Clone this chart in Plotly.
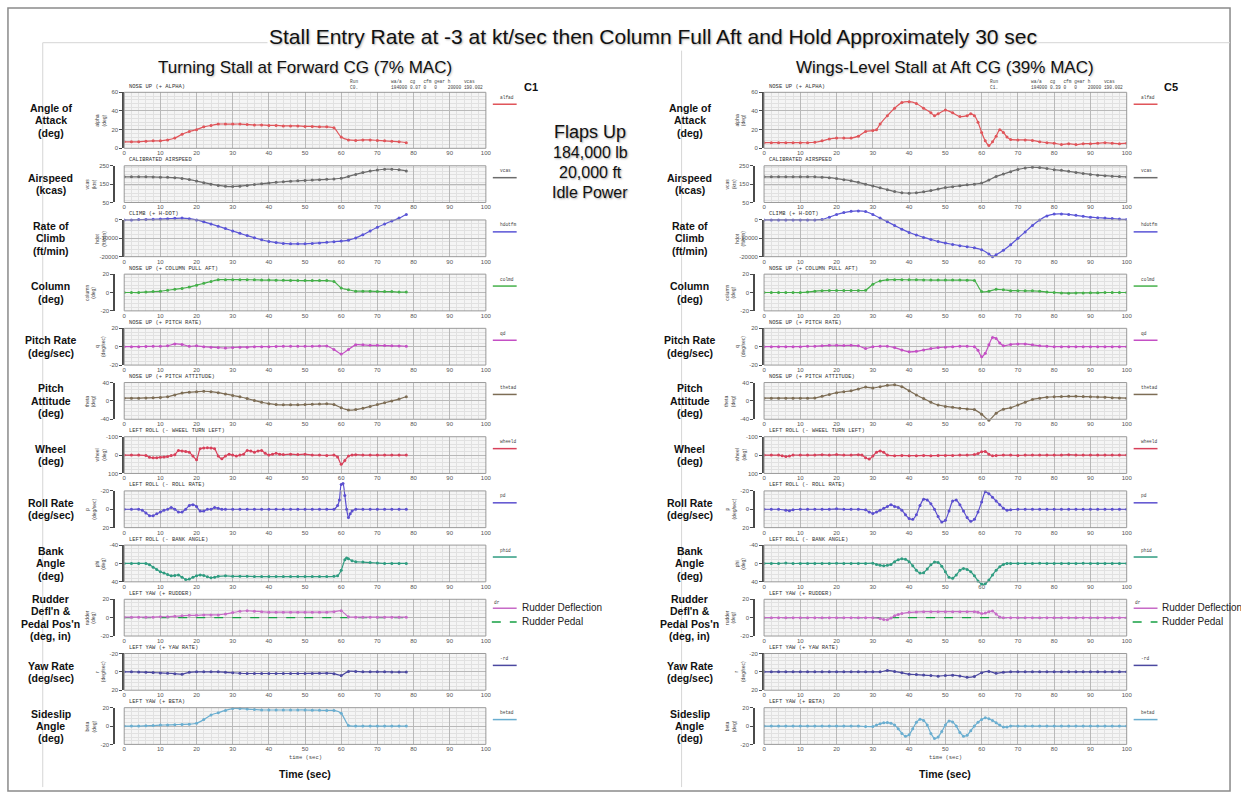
import plotly.graph_objects as go

W, H = 1241, 800


def fx(p):
    return p / W


def fy(p):
    return 1 - p / H


# ---------------- Turning stall at forward CG (left panel) ----------------
T_L = list(range(0, 80, 2))

AOA_L = [7, 7, 7, 7.5, 8, 8, 9, 11, 15, 18,
         20, 23, 24.5, 26, 26, 26, 26, 25.5, 25, 25,
         24.5, 24.5, 24, 24, 24, 23.5, 23.5, 23, 23, 22,
         12, 9, 8.5, 9, 9, 8.5, 8, 7.5, 7, 6]
VCAS_L = [190, 190, 190, 190, 189, 188, 187, 185, 181, 175,
          167, 158, 150, 143, 138, 137, 139, 143, 148, 152,
          156, 160, 163, 166, 168, 170, 172, 174, 176, 178,
          182, 192, 203, 213, 221, 227, 231, 231, 229, 222]
HDOT_L = [0, 0, 200, 300, 400, 500, 700, 900, 1000, 700,
          0, -1000, -2200, -3400, -4700, -6000, -7300, -8500, -9700, -10800,
          -11700, -12300, -12800, -13000, -13000, -13000, -12800, -12500, -12200, -11800,
          -11500, -11000, -9800, -8000, -6000, -4000, -2200, -600, 1000, 3000]
COL_L = [0, 0, 0, 0.5, 1, 1.5, 2.5, 3.5, 4.5, 6,
         8, 10, 12, 14, 14, 14, 14, 14, 13.8, 13.6,
         13.5, 13.4, 13.3, 13.2, 13.1, 13, 13, 13, 13, 12,
         5, 3, 1.5, 1.5, 1.5, 1.2, 1, 1, 0.5, 0.5]
Q_L = [0, 0, 0, 0.3, 0.5, 0.5, 1, 3, 2.5, 0.5,
       1, 0, -0.5, -1, -1.5, -1, -0.5, -0.5, 0, 0,
       0, 0.3, 0.5, 0.5, 0.5, 0.5, 0.5, 0.7, 0.8, -3,
       -8, -3, 2, 2, 1.5, 1.5, 1.2, 1, 0.8, 0.5]
THETA_L = [6, 6, 6, 6.5, 7, 7.5, 9, 13, 17, 19,
           20, 21, 20, 18, 15, 12, 9, 5, 1, -3,
           -6, -8, -8.5, -8.5, -8.5, -8, -7.5, -7, -6.5, -8,
           -15, -20, -19, -16, -12, -8, -4, 0, 4, 9]
T_WHEEL_L = [0, 2, 4, 6, 7, 8, 9, 10, 11, 12, 13, 14, 15, 16, 17, 18, 19, 20,
             21, 22, 23, 24, 25, 26, 27, 28, 29, 30, 31, 32, 33, 34, 35, 36, 37, 38,
             39, 40, 41, 42, 43, 44, 46, 48, 50, 52, 54, 56, 58, 59, 60, 61, 62, 63,
             64, 66, 68, 70, 72, 74, 76, 78]
WHEEL_L = [0, 0, 0, 2, 12, 15, 14, 12, 10, 8, 2, -2, -25, -22, -20, -15, 5, 25,
           -35, -38, -40, -38, -35, 5, 20, 5, -5, 0, 5, 0, -5, -25, -22, -15, -22, -25,
           -10, 0, -5, -10, -5, -3, -5, -3, -5, 0, 0, 2, 0, 10, 50, 30, 5, 0,
           -2, 0, 0, 0, 0, 0, 0, 0]
T_P_L = [0, 2, 4, 5, 6, 7, 8, 9, 10, 11, 12, 13, 14, 15, 16, 17, 18, 19, 20,
         21, 22, 23, 24, 25, 26, 27, 28, 30, 32, 34, 36, 38, 40, 42, 44, 46, 48,
         50, 52, 54, 56, 58, 59, 59.5, 60, 60.5, 61, 61.5, 62, 62.5, 63, 64, 66,
         68, 70, 72, 74, 76, 78]
P_L = [0, 0, 0, 1, 4, 7, 7, 5, 3, 1, 0, -2, 0, 3, 3, 0, -4, -5, -3,
       2, 2, 0, 0, -2, -1, 0, 0, 0, 0, 0, 0, 0, 0, 0, 0, 0, 0,
       0, 0, 0, 0, 0, -4, -10, -27, -28, -15, 0, 9, 5, 2, 0, 0,
       0, 0, 0, 0, 0, 0]
T_PHI_L = [0, 2, 4, 6, 7, 8, 9, 10, 11, 12, 13, 14, 15, 16, 17, 18, 19, 20,
           21, 22, 23, 24, 25, 26, 28, 30, 32, 34, 36, 38, 40, 42, 44, 46, 48,
           50, 52, 54, 56, 58, 59, 60, 61, 61.5, 62, 63, 64, 66, 68, 70, 72, 74,
           76, 78]
PHI_L = [0, 0, 0, 0, 3, 8, 13, 18, 21, 24, 27, 26, 25, 30, 35, 34, 30, 27,
         25, 26, 29, 31, 30, 28, 27, 28, 28, 28, 28.5, 28.5, 28.5, 28.5, 28.5, 28.5, 28.5,
         28.5, 28.5, 28.5, 28.5, 28, 27, 15, -8, -12, -10, -6, -4, -3, -2, -1, 0, 0,
         0, 0]
RUDDER_L = [0.5, 0.5, 0.5, 0.5, 0.5, 1, 1, 1.5, 2, 2.5,
            2.5, 3, 3, 3, 4, 5.5, 7, 7.5, 7, 6.5,
            6, 6, 6, 6, 6, 6, 6, 6, 6, 6.5,
            7.5, 1, 0.5, 0.5, 0.5, 0.5, 0.5, 0.5, 0.5, 0.5]
PEDAL_L = [0, 0, 0, 0, 0, 0, 0, 0, 0, 0,
           0, 0, 0, 0, 0, 0, 0, 0, 0, 0,
           0, 0, 0, 0, 0, 0, 0, 0, 0, 0,
           0, 0, 0, 0, 0, 0, 0, 0, 0, 0]
R_L = [0, 0, 0.3, 0.5, 0.8, 1.2, 1.5, 2, 2.5, 0.5,
       0, 0, 0, 0, 0.5, 1, 1.5, 1.8, 1.8, 1.8,
       1.8, 1.8, 1.8, 1.8, 1.8, 1.8, 1.7, 1.6, 1.5, 2,
       4, -0.5, -0.5, 0, 0, 0, 0, 0.2, 0.3, 0.3]
BETA_L = [0, 0, 0, 0.3, 0.5, 1, 1.2, 1.5, 1.8, 2,
          3, 7, 12, 14.5, 17, 19, 19, 18.5, 18, 17.5,
          17.5, 17.5, 17.5, 17.5, 17.5, 17.5, 17.3, 17.2, 17, 17,
          14, 0.5, 0, 0, 0, 0, 0, 0, 0, 0]

# ---------------- Wings-level stall at aft CG (right panel) ----------------
T_R = list(range(0, 101, 2))

T_AOA_R = [0, 2, 4, 6, 8, 10, 12, 14, 16, 18, 20, 22, 24, 26, 28, 30, 31, 32, 34,
           36, 38, 40, 42, 44, 46, 47, 48, 50, 52, 54, 56, 57, 58, 59, 60, 61, 62,
           63, 64, 65, 66, 67, 68, 70, 72, 74, 76, 78, 80, 82, 84, 86, 88, 90, 92,
           94, 96, 98, 100]
AOA_R = [6, 6, 6, 6, 6, 6, 6, 6.5, 8, 10, 11, 11, 11, 13, 18, 19, 20, 26, 35,
         43, 49, 50, 48, 43, 38, 35, 37, 41, 38, 34, 35, 37, 35, 28, 17, 8, 3,
         7, 13, 20, 17, 12, 9.5, 9, 9, 8.5, 7, 6, 5.5, 4, 5, 4, 5, 5, 5.5,
         6, 5.5, 5, 5.5]
VCAS_R = [190, 190, 190, 190, 190, 190, 190, 190, 188, 185,
          180, 174, 168, 160, 150, 140, 130, 120, 110, 103,
          101, 103, 108, 115, 123, 131, 136, 141, 146, 150,
          156, 172, 192, 205, 218, 230, 238, 242, 240, 235,
          229, 225, 220, 214, 208, 203, 199, 196, 193, 191, 189]
T_HDOT_R = [0, 2, 4, 6, 8, 10, 12, 14, 16, 18, 20, 22, 24, 26, 28, 30, 32, 34,
            36, 38, 40, 42, 44, 46, 48, 50, 52, 54, 56, 58, 60, 62, 63, 64, 66,
            68, 70, 72, 74, 76, 78, 80, 82, 84, 86, 88, 90, 92, 94, 96, 98, 100]
HDOT_R = [0, 0, 0, 0, 0, 0, 0, 0, 300, 1500, 3000, 4000, 4700, 4900, 4600, 3000,
          1000, -1000, -3000, -5000, -6800, -8200, -9500, -10600, -11700, -12600,
          -13300, -14000, -14600, -15200, -16200, -18500, -20000, -19000, -16500,
          -13500, -10000, -6500, -3000, 0, 2200, 3200, 3300, 3000, 2500, 2000,
          1500, 1200, 1000, 800, 500, 300]
COL_R = [0, 0, 0, 0, 0, 0, 0.5, 1.5, 2, 2.2,
         2.2, 2.2, 2.2, 2.2, 2.5, 9, 12.5, 13.8, 14, 14,
         13.8, 13.8, 13.7, 13.6, 13.6, 13.5, 13.5, 13.5, 13.4, 13,
         1, 1.5, 3.5, 3, 2, 2, 1.8, 1.8, 1.5, 0.5,
         0, -0.5, -0.7, -0.5, -0.5, -0.3, -0.3, 0, 0, 0, 0]
T_Q_R = [0, 2, 4, 6, 8, 10, 12, 14, 16, 18, 20, 22, 24, 26, 28, 30, 32, 34, 36,
         38, 40, 42, 44, 46, 48, 50, 52, 54, 56, 58, 59, 60, 61, 62, 63, 64, 65,
         66, 68, 70, 72, 74, 76, 78, 80, 82, 84, 86, 88, 90, 92, 94, 96, 98, 100]
Q_R = [0, 0, 0, 0, 0, 0, 0.5, 0.5, 1, 1.5, 1.5, 1.2, 1.5, 1, -2, 0, 0.5, 0.5, -1,
       -3.5, -5.5, -5, -3.5, -2, -1, -0.5, 0, 0.5, 0.5, 0, -4, -11, -7, 2, 10, 9, 4,
       1, 2.5, 3, 3, 2, 1, 0.5, 0, 0, 0, 0, 0, 0, 0, 0, 0, 0, 0]
THETA_R = [6, 6, 6, 6, 6, 6, 6, 6.5, 10, 14,
           18, 20, 22, 26, 30, 28, 31, 34, 35, 31,
           22, 13, 5, -3, -9, -12, -14, -16, -17.5, -19,
           -29, -42, -27, -18, -15, -9, -3, 3, 6, 8,
           9, 9.5, 10, 10, 9.5, 9, 8.5, 8, 7, 6.5, 6]
T_WHEEL_R = [0, 2, 4, 5, 6, 7, 8, 10, 12, 14, 16, 18, 20, 22, 24, 26, 27, 28, 29,
             30, 31, 32, 33, 34, 36, 38, 40, 42, 44, 46, 48, 50, 52, 54, 56, 58, 59,
             60, 61, 62, 63, 64, 66, 68, 70, 72, 74, 76, 78, 80, 82, 84, 86, 88, 90,
             92, 94, 96, 98, 100]
WHEEL_R = [0, 0, 0, 3, 8, 5, 0, 0, 0, 0, -2, 0, -3, 0, 0, -2, 0, 15, 22,
           5, -15, -22, -15, 0, 3, 2, 3, 3, 2, 3, 2, 2, 2, 0, 0, -3, -8,
           -18, -20, -5, 3, 2, 0, 0, 2, 0, 0, 0, 0, 0, 0, -2, 0, 0, 0,
           0, 0, 0, 0, 0]
T_P_R = [0, 2, 4, 6, 7, 8, 10, 12, 14, 16, 18, 20, 22, 24, 26, 28, 29, 30, 31,
         32, 33, 34, 35, 36, 37, 38, 39, 40, 41, 42, 43, 44, 45, 46, 47, 48, 49,
         50, 51, 52, 53, 54, 55, 56, 57, 58, 59, 60, 61, 62, 63, 64, 65, 66, 67,
         68, 70, 72, 74, 76, 78, 80, 82, 84, 86, 88, 90, 92, 94, 96, 98, 100]
P_R = [0, 0, 0, 1, 1.5, 0.5, 0, 0, 0, 0, 0, -0.5, 0, 0, 0, 0.5, 3, 4.5, 3,
       1, -1, -3, -5, -3, -2, 1, 6, 10, 11, 6, -4, -11, -10, -6, 0, 8, 14,
       12, 2, -9, -10, -5, 2, 9, 13, 11, 3, -8, -19, -17, -13, -9, -5, -1, 1,
       0.5, 0, 0, 0, 0, 0, 0, 0, 0, 0, 0, 0, 0, 0, 0, 0, 0]
T_PHI_R = [0, 2, 4, 6, 8, 10, 12, 14, 16, 18, 20, 22, 24, 26, 28, 30, 31, 32, 33,
           34, 35, 36, 37, 38, 39, 40, 41, 42, 43, 44, 45, 46, 47, 48, 49, 50, 51,
           52, 53, 54, 55, 56, 57, 58, 59, 60, 61, 62, 63, 64, 65, 66, 67, 68, 70,
           72, 74, 76, 78, 80, 82, 84, 86, 88, 90, 92, 94, 96, 98, 100]
PHI_R = [0, 0, 0, -1, 0, 0, 0, 0, 0, 0, -0.5, 0, 0, 0, 0, -0.5, 2, 4, 5,
         4, 2, -4, -8, -10, -9, -4, 5, 15, 21, 20, 12, 3, -3, -2, 6, 18, 30,
         32, 25, 15, 11, 13, 18, 27, 38, 45, 44, 36, 25, 15, 7, 2, 0, 0, 0,
         0, 0, -0.5, 0, 0, 0, 0, 0, -0.5, 0, 0, 0, 0, 0, 0]
T_RUDDER_R = [0, 2, 4, 6, 8, 10, 12, 14, 16, 18, 20, 22, 24, 26, 28, 30, 32, 33,
              34, 35, 36, 37, 38, 40, 42, 44, 46, 48, 50, 52, 54, 56, 58, 59, 60,
              61, 62, 63, 64, 65, 66, 68, 70, 72, 74, 76, 78, 80, 82, 84, 86, 88,
              90, 92, 94, 96, 98, 100]
RUDDER_R = [0, 0, 0, 0, 0, 0, 0, 0, 0, 0, 0, 0, 0, 0, 0, 0, -1, -2,
            -2.2, -0.5, 2, 3.5, 4.5, 5.8, 6.2, 6.5, 6.5, 6.5, 6.5, 6.5, 6.5, 6.5, 6.5, 6, 4.4,
            5, 6.5, 7.2, 4, 0.7, 0, 0, 0, 0, 0, 0, 0, 0, 0, 0, 0, 0,
            0, 0, 0, 0, 0, 0]
PEDAL_R = [0, 0, 0, 0, 0, 0, 0, 0, 0, 0,
           0, 0, 0, 0, 0, 0, 0, 0, 0.3, 0.5,
           0.5, 0.5, 0.5, 0.5, 0.5, 0.5, 0.5, 0.5, 0.5, 0.5,
           0.3, 0, 0, 0, 0, 0, 0, 0, 0, 0,
           0, 0, 0, 0, 0, 0, 0, 0, 0, 0, 0]
R_R = [0, 0, 0, 0, 0, 0, 0, 0, 0, 0,
       0, 0, 0, 0, 0, 0, 0, -1.5, -0.5, 1,
       2.5, 3, 3.5, 4, 4.7, 4, 3.6, 4.5, 6, 5,
       1, -0.5, 1.5, 0.5, 0, 0, 0, 0, 0, 0,
       0, 0, 0, 0, 0, 0, 0, 0, 0, 0, 0]
T_BETA_R = [0, 2, 4, 6, 8, 10, 12, 14, 16, 18, 20, 22, 24, 26, 28, 30, 31, 32, 33,
            34, 35, 36, 37, 38, 39, 40, 41, 42, 43, 44, 45, 46, 47, 48, 49, 50, 51,
            52, 53, 54, 55, 56, 57, 58, 59, 60, 61, 62, 63, 64, 65, 66, 67, 68, 70,
            72, 74, 76, 78, 80, 82, 84, 86, 88, 90, 92, 94, 96, 98, 100]
BETA_R = [0, 0, 0, 0, 0, 0, 0, 0, 0, 0, 0, 0, 0, 0, -0.5, -0.5, 1, 2.5, 3.5,
          3.8, 3, 1, -3, -8, -11, -9.5, -3, 4, 7.3, 6, 1, -8, -13.5, -12, -6, 1, 5.5,
          4.5, 0, -7, -11, -10, -5, 0, 4, 7, 9, 8, 6, 3.5, 1, -1, -1, 0, 0,
          0, 0, 0, 0, 0, 0, 0, 0, 0, 0, 0, 0, 0, 0, 0]

# series per row: (time, values, style)
LEFT = [
    [(T_L, AOA_L, "main")],
    [(T_L, VCAS_L, "main")],
    [(T_L, HDOT_L, "main")],
    [(T_L, COL_L, "main")],
    [(T_L, Q_L, "main")],
    [(T_L, THETA_L, "main")],
    [(T_WHEEL_L, WHEEL_L, "main")],
    [(T_P_L, P_L, "main")],
    [(T_PHI_L, PHI_L, "main")],
    [(T_L, PEDAL_L, "pedal"), (T_L, RUDDER_L, "main")],
    [(T_L, R_L, "main")],
    [(T_L, BETA_L, "main")],
]
RIGHT = [
    [(T_AOA_R, AOA_R, "main")],
    [(T_R, VCAS_R, "main")],
    [(T_HDOT_R, HDOT_R, "main")],
    [(T_R, COL_R, "main")],
    [(T_Q_R, Q_R, "main")],
    [(T_R, THETA_R, "main")],
    [(T_WHEEL_R, WHEEL_R, "main")],
    [(T_P_R, P_R, "main")],
    [(T_PHI_R, PHI_R, "main")],
    [(T_R, PEDAL_R, "pedal"), (T_RUDDER_R, RUDDER_R, "main")],
    [(T_R, R_R, "main")],
    [(T_BETA_R, BETA_R, "main")],
]

ROW_LABELS = [
    ["Angle of", "Attack", "(deg)"],
    ["Airspeed", "(kcas)"],
    ["Rate of", "Climb", "(ft/min)"],
    ["Column", "(deg)"],
    ["Pitch Rate", "(deg/sec)"],
    ["Pitch", "Attitude", "(deg)"],
    ["Wheel", "(deg)"],
    ["Roll Rate", "(deg/sec)"],
    ["Bank", "Angle", "(deg)"],
    ["Rudder", "Defl'n &", "Pedal Pos'n", "(deg, in)"],
    ["Yaw Rate", "(deg/sec)"],
    ["Sideslip", "Angle", "(deg)"],
]
HEADERS = [
    "NOSE UP (+ ALPHA)", "CALIBRATED AIRSPEED", "CLIMB (+ H-DOT)",
    "NOSE UP (+ COLUMN PULL AFT)", "NOSE UP (+ PITCH RATE)",
    "NOSE UP (+ PITCH ATTITUDE)", "LEFT ROLL (- WHEEL TURN LEFT)",
    "LEFT ROLL (- ROLL RATE)", "LEFT ROLL (- BANK ANGLE)",
    "LEFT YAW (+ RUDDER)", "LEFT YAW (+ YAW RATE)", "LEFT YAW (+ BETA)",
]
AXIS_TITLES = [
    "alpha<br>(deg)", "vcas<br>(kts)", "hdot<br>(ft/min)", "column<br>(deg)",
    "q<br>(deg/sec)", "theta<br>(deg)", "wheel<br>(deg)", "p<br>(deg/sec)",
    "phi<br>(deg)", "rudder<br>(deg)", "r<br>(deg/sec)", "beta<br>(deg)",
]
STUB_NAMES = ["alfad", "vcas", "hdotfm", "colmd", "qd", "thetad", "wheeld",
              "pd", "phid", "dr", "-rd", "betad"]
# y ranges as [bottom, top]; reversed rows put negative values on top
Y_RANGES = [[0, 60], [50, 250], [-20000, 0], [-20, 20], [-20, 20], [-40, 40],
            [100, -100], [20, -20], [40, -40], [-20, 20], [20, -20], [-20, 20]]
Y_TICKS = [[0, 20, 40, 60], [50, 150, 250], [-20000, -10000, 0], [-20, 0, 20],
           [-20, 0, 20], [-40, 0, 40], [-100, 0, 100], [-20, 0, 20], [-40, 0, 40],
           [-20, 0, 20], [-20, 0, 20], [-20, 0, 20]]
Y_MINOR = [4, 20, 2000, 4, 4, 8, 20, 4, 8, 4, 4, 4]

COLORS = ["#e0555a", "#6c6c6c", "#5a55d6", "#45b04a", "#c44fc4", "#7d6d55",
          "#d8405a", "#5b4fcf", "#2f9c80", "#c76bc7", "#4b48a0", "#6aaed0"]
PEDAL_COLOR = "#16a043"

PANEL_X = [(123, 487), (767, 1132)]
LABEL_X = [49, 692]
PANEL_TITLES = ["Turning Stall at Forward CG (7% MAC)",
                "Wings-Level Stall at Aft CG (39% MAC)"]
CASE_IDS = ["C1", "C5"]
RUN_IDS = ["C0.", "C1."]
CG_TEXT = ["0.07", "0.39"]

FONT = "Liberation Sans, Arial, sans-serif"
MONO = "Liberation Mono, DejaVu Sans Mono, monospace"
GRID = "#b9b9b9"
MINOR = "#e1e1e1"
EXT = 12  # px of headroom for traces beyond the box


def row_bot(r):
    return 146.4 + 54.6 * r


def row_top(r):
    return 90 if r == 0 else row_bot(r) - 37


def axn(k):
    return "" if k == 1 else str(k)


fig = go.Figure()
layout = {}
shapes = []
annos = []


def text(x, y, s, size, color="#222", bold=False, family=FONT, xanchor="center",
         yanchor="middle", angle=0, shadow=None, bg=None):
    f = dict(size=size, color=color, family=family)
    if shadow:
        f["shadow"] = shadow
    if bold:
        f["weight"] = "bold"
    a = dict(x=fx(x), y=fy(y), xref="paper", yref="paper", text=s, showarrow=False,
             font=f, xanchor=xanchor, yanchor=yanchor, textangle=angle)
    if bg:
        a["bgcolor"] = bg
    annos.append(a)


for side, panel in enumerate([LEFT, RIGHT]):
    x0, x1 = PANEL_X[side]
    for r in range(12):
        k = side * 12 + r + 1
        ko = k + 24
        top, bot = row_top(r), row_bot(r)
        lo, hi = Y_RANGES[r]
        odd = r % 2 == 1
        axis_x = x0 - 10 if odd else x0
        xd = [fx(x0), fx(x1)]

        layout["xaxis" + axn(k)] = dict(
            domain=xd, anchor="y" + axn(k), range=[0, 100],
            tickvals=list(range(0, 101, 10)), ticktext=[str(v) for v in range(0, 101, 10)],
            showgrid=True, gridcolor=GRID, gridwidth=1,
            minor=dict(dtick=2, tick0=0, showgrid=True, gridcolor=MINOR, gridwidth=1),
            zeroline=False, showline=False, ticks="",
            tickfont=dict(size=6, color="#555", family=FONT), fixedrange=True)
        ya = dict(
            domain=[fy(bot), fy(top)], range=[lo, hi],
            tickvals=Y_TICKS[r], ticktext=[str(v) for v in Y_TICKS[r]],
            showgrid=True, gridcolor=GRID, gridwidth=1,
            minor=dict(dtick=Y_MINOR[r], tick0=0, showgrid=True, gridcolor=MINOR, gridwidth=1),
            zeroline=False, showline=True, linecolor="#4a4a4a", linewidth=1.8,
            ticks="outside", ticklen=3, tickcolor="#4a4a4a",
            tickfont=dict(size=6, color="#555", family=FONT), fixedrange=True)
        if odd:
            ya.update(anchor="free", position=fx(axis_x))
        else:
            ya.update(anchor="x" + axn(k))
        layout["yaxis" + axn(k)] = ya
        fig.add_trace(go.Scatter(x=[None], y=[None], xaxis="x" + axn(k), yaxis="y" + axn(k),
                                 showlegend=False, hoverinfo="skip"))

        # overlay axes with the same scale but a little extra room around the box
        f = EXT / (bot - top)
        layout["xaxis" + axn(ko)] = dict(domain=xd, anchor="y" + axn(ko), range=[0, 100],
                                         visible=False, fixedrange=True)
        layout["yaxis" + axn(ko)] = dict(domain=[fy(bot + EXT), fy(top - EXT)],
                                         anchor="x" + axn(ko),
                                         range=[lo - (hi - lo) * f, hi + (hi - lo) * f],
                                         visible=False, fixedrange=True)
        for t, v, style in panel[r]:
            if style == "pedal":
                fig.add_trace(go.Scatter(
                    x=t, y=v, mode="lines", xaxis="x" + axn(ko), yaxis="y" + axn(ko),
                    line=dict(color=PEDAL_COLOR, width=1.3, dash="dash"),
                    showlegend=False, hoverinfo="skip"))
            else:
                fig.add_trace(go.Scatter(
                    x=t, y=v, mode="lines+markers", xaxis="x" + axn(ko), yaxis="y" + axn(ko),
                    line=dict(color=COLORS[r], width=1.2, shape="spline", smoothing=0.6),
                    marker=dict(color=COLORS[r], size=3),
                    showlegend=False, hoverinfo="skip"))

        # plot box: light fill underneath, thin frame on top
        shapes.append(dict(type="rect", xref="paper", yref="paper", x0=fx(x0), x1=fx(x1),
                           y0=fy(bot), y1=fy(top), fillcolor="#f5f5f5",
                           line=dict(width=0), layer="below"))
        shapes.append(dict(type="rect", xref="paper", yref="paper", x0=fx(x0), x1=fx(x1),
                           y0=fy(bot), y1=fy(top), line=dict(color="#9a9a9a", width=1),
                           layer="above"))

        # header above the box and rotated axis title
        text(x0 + 3, top - 0.5, HEADERS[r], 5.5, "#333", family=MONO,
             xanchor="left", yanchor="bottom")
        text(axis_x - 24, (top + bot) / 2, AXIS_TITLES[r], 5, "#444", angle=-90)

        # bold row label
        lines = ROW_LABELS[r]
        yc = (top + bot) / 2
        for i, s in enumerate(lines):
            text(LABEL_X[side], yc + (i - (len(lines) - 1) / 2) * 12.5, s, 10.5,
                 "#111", bold=True)

        # small key to the right of the box
        sx0, sx1 = x1 + 7, x1 + 31
        if r == 9:
            shapes.append(dict(type="line", xref="paper", yref="paper", x0=fx(sx0), x1=fx(sx1),
                               y0=fy(top + 9), y1=fy(top + 9),
                               line=dict(color=COLORS[r], width=1.5)))
            shapes.append(dict(type="line", xref="paper", yref="paper", x0=fx(sx0 - 1), x1=fx(sx1),
                               y0=fy(top + 23), y1=fy(top + 23),
                               line=dict(color=PEDAL_COLOR, width=1.5, dash="dash")))
            text(x1 + 11, top + 3, STUB_NAMES[r], 4.5, "#444", family=MONO)
            text(sx1 + 3, top + 8, "Rudder Deflection", 10, "#222", xanchor="left")
            text(sx1 + 3, top + 22, "Rudder Pedal", 10, "#222", xanchor="left")
        else:
            shapes.append(dict(type="line", xref="paper", yref="paper", x0=fx(sx0), x1=fx(sx1),
                               y0=fy(top + 12), y1=fy(top + 12),
                               line=dict(color=COLORS[r], width=1.5)))
            text(x1 + 12, top + 5, STUB_NAMES[r], 4.5, "#444", family=MONO,
                 xanchor="left")

    # panel header block
    xc = (x0 + x1) / 2
    text(xc, 65, PANEL_TITLES[side], 17, "#111",
         shadow="1px 1px 2px rgba(0,0,0,0.25)")
    text(x1 + 45, 85, CASE_IDS[side], 11, "#111", bold=True)
    text(x0 + 225, 79, "Run", 4.5, "#444", family=MONO, xanchor="left")
    text(x0 + 225, 85, RUN_IDS[side], 4.5, "#444", family=MONO, xanchor="left")
    text(x0 + 267, 79, "wa/a   cg   cfm gear h     vcas", 4.5, "#444", family=MONO,
         xanchor="left")
    text(x0 + 267, 85, "184000 " + CG_TEXT[side] + " 0   0    20000 190.002", 4.5, "#444",
         family=MONO, xanchor="left")
    text(xc, 760, "time (sec)", 5.5, "#444", family=MONO)
    text(xc, 777, "Time (sec)", 10.5, "#111", bold=True)

# slide frame and guide lines
shapes.append(dict(type="rect", xref="paper", yref="paper", x0=fx(6), x1=fx(1236),
                   y0=fy(794), y1=fy(5), line=dict(color="#8a8a8a", width=1.5), layer="below"))
for seg in [((41, 40), (41, 790)), ((41, 40), (1236, 40)), ((684, 48), (684, 790))]:
    (ax, ay), (bx, by) = seg
    shapes.append(dict(type="line", xref="paper", yref="paper", x0=fx(ax), x1=fx(bx),
                       y0=fy(ay), y1=fy(by), line=dict(color="#d6d6d6", width=1),
                       layer="below"))

text(655, 34, "Stall Entry Rate at -3 at kt/sec then Column Full Aft and Hold Approximately 30 sec",
     21, "#111", shadow="1px 1px 2px rgba(0,0,0,0.3)", bg="white")
sh = "1px 1px 2px rgba(0,0,0,0.35)"
text(592, 130, "Flaps Up", 18, "#111", shadow=sh)
text(592, 151, "184,000 lb", 16, "#111", shadow=sh)
text(592, 171, "20,000 ft", 16, "#111", shadow=sh)
text(592, 191, "Idle Power", 16, "#111", shadow=sh)

fig.update_layout(
    width=W, height=H, margin=dict(l=0, r=0, t=0, b=0),
    paper_bgcolor="white", plot_bgcolor="rgba(0,0,0,0)",
    font=dict(family=FONT), showlegend=False,
    shapes=shapes, annotations=annos, **layout)

fig.write_html("out.html")
